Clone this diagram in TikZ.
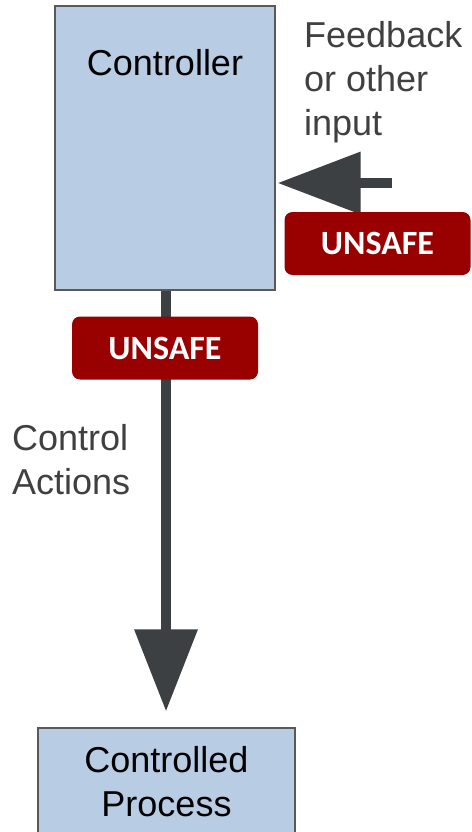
\documentclass[tikz,border=0pt]{standalone}
\usepackage{fontspec}
\setmainfont{Liberation Sans}
\newfontfamily\badgefont{Carlito}
\usetikzlibrary{arrows.meta}

\definecolor{boxblue}{HTML}{B8CCE4}
\definecolor{boxedge}{HTML}{595959}
\definecolor{arrowgray}{HTML}{3C4043}
\definecolor{labelgray}{HTML}{404040}
\definecolor{unsafered}{HTML}{990000}

\tikzset{
  block/.style={draw=boxedge, line width=1.2pt, fill=boxblue, inner sep=0pt},
  blocktext/.style={font=\fontsize{36}{44}\selectfont, text=black, align=center, inner sep=0pt},
  sidelabel/.style={font=\fontsize{36}{44}\selectfont, text=labelgray, align=left, inner sep=0pt},
  badge/.style={fill=unsafered, rounded corners=8pt, minimum width=186pt, minimum height=63pt,
    inner sep=0pt, text=white, font=\badgefont\bfseries\fontsize{34}{38}\selectfont},
  flow/.style={draw=arrowgray, line width=10pt},
}

\begin{document}
\begin{tikzpicture}[x=1pt, y=-1pt]
  \useasboundingbox (0,0) rectangle (471,832);

  % blocks
  \node[block, minimum width=220pt, minimum height=284pt] (ctrl) at (165,148) {};
  \node[blocktext] (ctrltxt) at (165,63) {Controller};
  \node[block, minimum width=257pt, minimum height=108pt, blocktext] (proc) at (166.5,782) {Controlled\\Process};

  % feedback input arrow
  \coordinate (fbin) at (392,183);
  \draw[flow, -{Triangle[length=83pt, width=60pt]}, shorten >=2pt] (fbin) -- (fbin -| ctrl.east);

  % control action arrow
  \draw[flow, -{Triangle[length=82pt, width=61pt]}, shorten >=16pt] (ctrl.south -| 166,0) -- (proc.north -| 166,0);

  % labels
  \node[sidelabel, anchor=west] (fblabel) at (304,82) {Feedback\\or other\\input};
  \node[sidelabel, anchor=west] (calabel) at (12,460) {Control\\Actions};

  % unsafe badges
  \node[badge] (unsafefb) at (377.5,243.5) {UNSAFE};
  \node[badge] (unsafeca) at (165,348) {UNSAFE};
\end{tikzpicture}
\end{document}
